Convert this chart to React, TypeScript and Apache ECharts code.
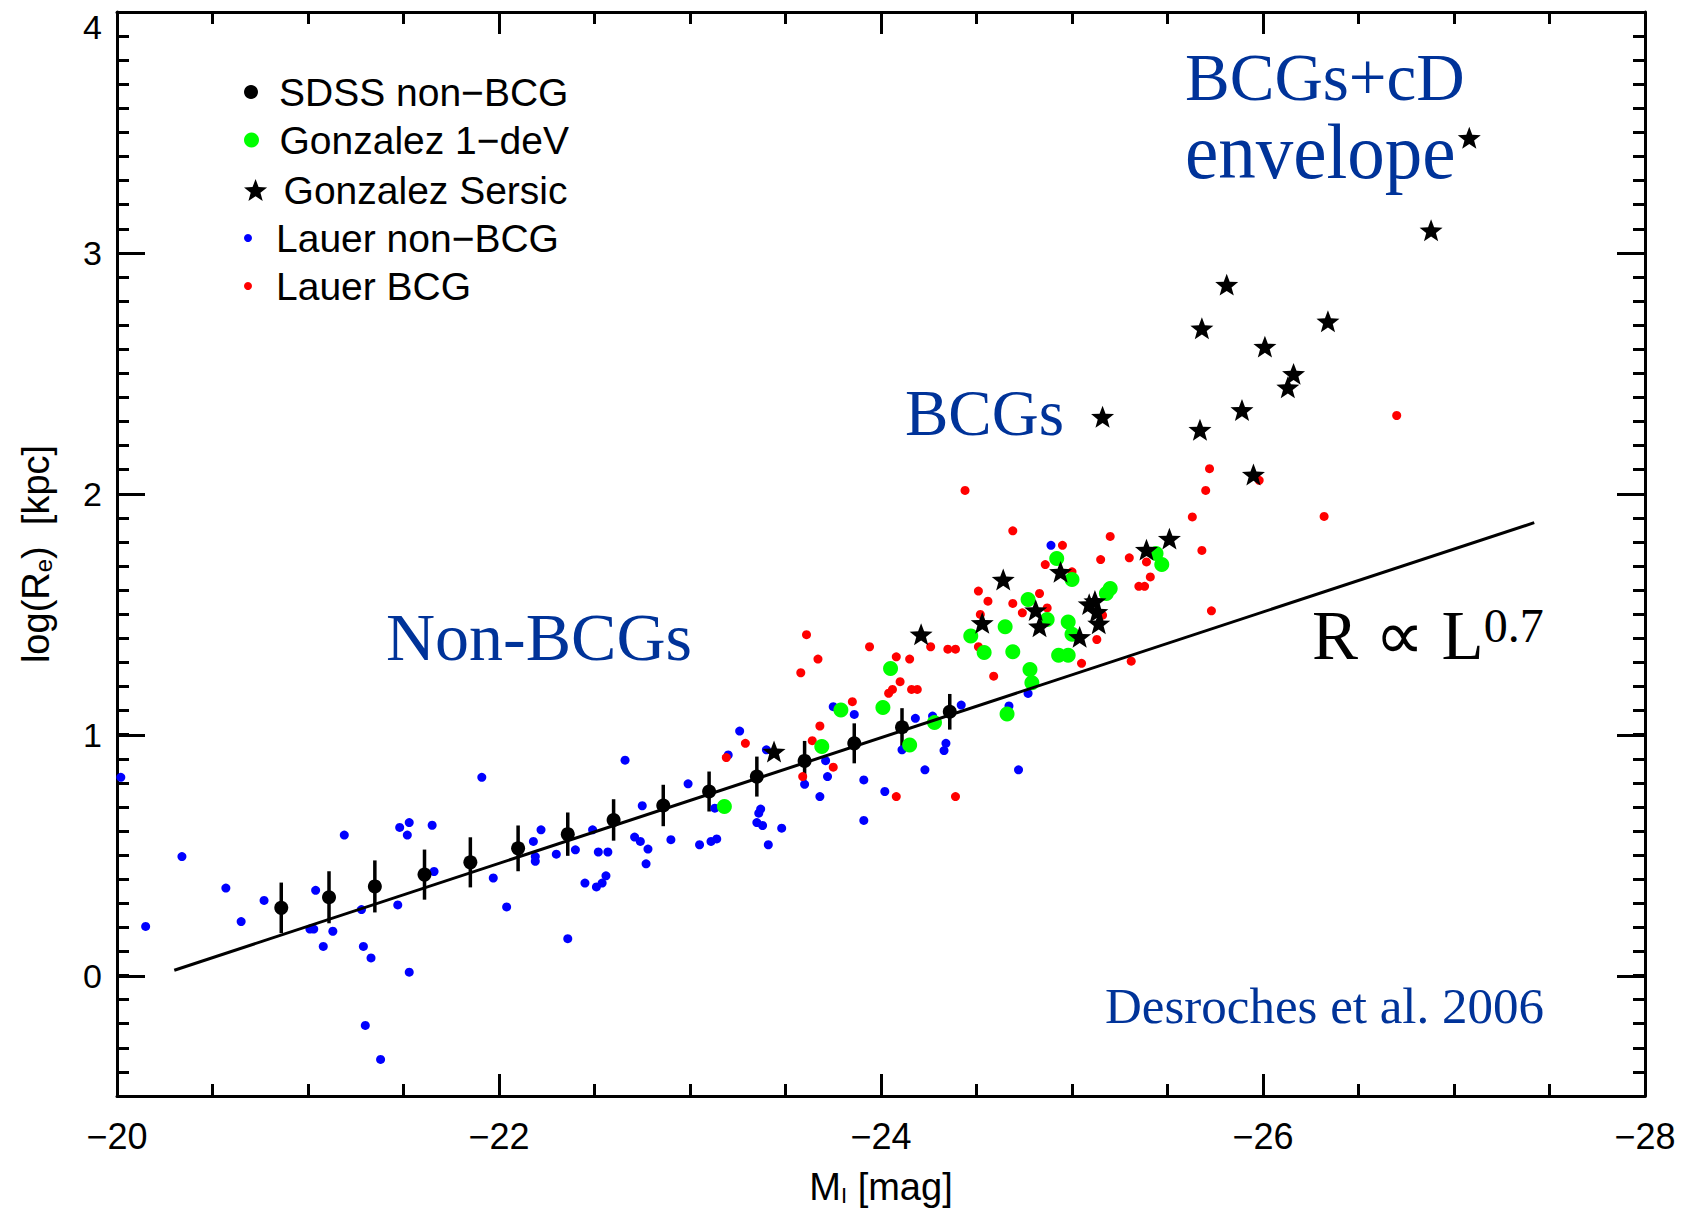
import React, { useEffect, useRef } from "react";
import * as echarts from "echarts";

// ---------------- data ----------------
const SDSS_X = [-20.86, -21.11, -21.35, -21.61, -21.85, -22.1, -22.36, -22.6, -22.86, -23.1, -23.35, -23.6, -23.86, -24.11, -24.36];
const SDSS_Y = [0.281, 0.325, 0.37, 0.419, 0.47, 0.528, 0.587, 0.646, 0.706, 0.764, 0.826, 0.891, 0.964, 1.031, 1.095];
const SDSS_ERR = [0.105, 0.108, 0.108, 0.104, 0.104, 0.095, 0.09, 0.086, 0.086, 0.083, 0.083, 0.083, 0.083, 0.079, 0.074];

const LAUER_NONBCG: [number, number][] = [
  [-20.02, 0.823], [-20.15, 0.204], [-20.34, 0.494], [-20.57, 0.363], [-20.65, 0.224], [-20.77, 0.312],
  [-21.04, 0.354], [-21.01, 0.193], [-21.03, 0.193], [-21.13, 0.184], [-21.08, 0.121], [-21.19, 0.583],
  [-21.28, 0.274], [-21.29, 0.121], [-21.33, 0.073], [-21.3, -0.207], [-21.38, -0.348], [-21.47, 0.293],
  [-21.48, 0.615], [-21.52, 0.583], [-21.53, 0.635], [-21.65, 0.624], [-21.66, 0.432], [-21.53, 0.014],
  [-21.91, 0.823], [-21.97, 0.405], [-22.04, 0.285],
  [-22.36, 0.153], [-22.18, 0.557], [-22.22, 0.605], [-22.19, 0.494], [-22.19, 0.474], [-22.3, 0.504],
  [-22.4, 0.522], [-22.45, 0.384], [-22.51, 0.368], [-22.54, 0.384], [-22.56, 0.414], [-22.49, 0.605],
  [-22.52, 0.513], [-22.57, 0.513], [-22.66, 0.894], [-22.71, 0.575], [-22.74, 0.557], [-22.75, 0.705],
  [-22.78, 0.525], [-22.77, 0.464], [-22.9, 0.564], [-22.99, 0.796], [-23.05, 0.543], [-23.11, 0.557],
  [-23.14, 0.567], [-23.13, 0.695], [-23.2, 0.916], [-23.26, 1.015], [-23.37, 0.691], [-23.36, 0.674],
  [-23.35, 0.635], [-23.38, 0.623], [-23.41, 0.543], [-23.48, 0.612], [-23.4, 0.937], [-23.6, 0.794],
  [-23.68, 0.743], [-23.72, 0.826], [-23.71, 0.892], [-23.75, 1.116], [-23.86, 1.084], [-23.91, 0.812],
  [-23.91, 0.644], [-24.02, 0.764], [-24.11, 0.937], [-24.18, 1.068],
  [-24.23, 0.854], [-24.72, 0.854], [-24.33, 0.934], [-24.34, 0.964], [-24.27, 1.077], [-24.42, 1.123],
  [-24.67, 1.119], [-24.77, 1.171], [-24.89, 1.786],
];

const LAUER_BCG: [number, number][] = [
  [-23.61, 1.415], [-23.67, 1.314], [-23.58, 1.257], [-23.29, 0.964], [-23.19, 0.905], [-23.68, 1.036],
  [-23.64, 0.975], [-23.59, 0.826], [-23.75, 0.865], [-23.85, 1.137], [-23.94, 1.365], [-24.08, 1.323],
  [-24.15, 1.314], [-24.1, 1.22], [-24.06, 1.188], [-24.04, 1.172], [-24.16, 1.188], [-24.19, 1.188],
  [-24.08, 0.743],
  [-24.44, 2.014], [-24.69, 1.846], [-24.95, 1.786], [-25.2, 1.823], [-25.72, 2.104], [-25.7, 2.014],
  [-25.63, 1.904], [-25.98, 2.056], [-25.68, 1.765], [-25.73, 1.514], [-25.3, 1.734], [-25.39, 1.717],
  [-25.41, 1.655], [-25.35, 1.616], [-25.38, 1.616], [-25.15, 1.727], [-24.86, 1.706], [-25.0, 1.676],
  [-24.51, 1.596], [-24.56, 1.554], [-24.69, 1.545], [-24.83, 1.586], [-24.74, 1.506], [-24.87, 1.526],
  [-24.52, 1.499], [-25.16, 1.496], [-25.13, 1.395], [-24.51, 1.365], [-24.26, 1.365], [-24.35, 1.355],
  [-24.39, 1.355], [-24.59, 1.243], [-25.05, 1.296], [-25.31, 1.305], [-24.39, 0.743],
  [-26.7, 2.325], [-26.32, 1.906],
];

const GONZALEZ_DEV: [number, number][] = [
  [-23.18, 0.702], [-23.69, 0.951], [-23.79, 1.102], [-24.01, 1.113], [-24.05, 1.275], [-24.15, 0.957],
  [-24.28, 1.05], [-24.66, 1.086], [-24.79, 1.216], [-24.78, 1.271], [-24.47, 1.41], [-24.54, 1.341],
  [-24.65, 1.448], [-24.69, 1.344], [-24.77, 1.561], [-24.87, 1.478], [-24.93, 1.33], [-24.98, 1.33],
  [-24.98, 1.468], [-25.0, 1.417], [-24.92, 1.731], [-25.0, 1.644], [-25.18, 1.586], [-25.2, 1.607],
  [-25.44, 1.752], [-25.47, 1.706],
];

const GONZALEZ_SERSIC: [number, number][] = [
  [-23.44, 0.93], [-24.21, 1.417], [-24.53, 1.464], [-24.64, 1.644], [-24.81, 1.517], [-24.83, 1.45],
  [-24.94, 1.676], [-25.04, 1.406], [-25.09, 1.542], [-25.12, 1.555], [-25.13, 1.51], [-25.14, 1.462],
  [-25.16, 2.32], [-25.39, 1.768], [-25.51, 1.814], [-25.67, 2.266], [-25.68, 2.687], [-25.81, 2.868],
  [-25.89, 2.348], [-25.95, 2.08], [-26.01, 2.611], [-26.13, 2.442], [-26.16, 2.498], [-26.34, 2.716],
  [-26.88, 3.094], [-27.08, 3.478],
];

const FIT_LINE: [number, number][] = [[-20.3, 0.022], [-27.42, 1.88]];

const X_TICKS_MIN = -28;
const X_TICKS_MAX = -20;
const Y_MIN = -0.5;
const Y_MAX = 4;

const NAMES = {
  sdss: "SDSS non\u2212BCG",
  dev: "Gonzalez 1\u2212deV",
  sersic: "Gonzalez Sersic",
  lauerN: "Lauer non\u2212BCG",
  lauerB: "Lauer BCG",
};

const STAR =
  "path://M0,-10L2.47,-3.4L9.511,-3.09L4,1.3L5.878,8.09L0,4.2L-5.878,8.09L-4,1.3L-9.511,-3.09L-2.47,-3.4Z";

const SANS = "Liberation Sans";
const SERIF = "Liberation Serif";
const TXT_BLUE = "#003399";

function App() {
  const ref = useRef<HTMLDivElement>(null);

  useEffect(() => {
    if (!ref.current) return;
    const chart = echarts.init(ref.current, null, { renderer: "svg" });

    const axisLine = { show: true, onZero: false, lineStyle: { color: "#000", width: 3 } };
    const tickStyle = { color: "#000", width: 3 };

    const xBase = {
      type: "value",
      min: X_TICKS_MIN,
      max: X_TICKS_MAX,
      interval: 2,
      inverse: true,
      splitLine: { show: false },
      axisLine,
      axisTick: { show: true, inside: true, length: 22, lineStyle: tickStyle },
      minorTick: { show: true, splitNumber: 4, length: 12, lineStyle: tickStyle },
    };

    const legendItem = (name: string, icon: string, size: number, cy: number) => ({
      data: [{ name, icon }],
      left: 244,
      top: cy - 20,
      padding: 0,
      orient: "vertical",
      itemWidth: 46,
      itemHeight: size,
      selectedMode: false,
      textStyle: { fontFamily: SANS, fontSize: 39, color: "#000", lineHeight: 40 },
    });

    const scatterBase = { type: "scatter", xAxisIndex: 0, yAxisIndex: 0, silent: true, symbol: "circle" };

    const option: any = {
      animation: false,
      backgroundColor: "#fff",
      grid: [
        { left: 117, right: 46, top: 12, bottom: 113 },
        { left: 117, right: 46, top: 12, bottom: 235 },
      ],
      xAxis: [
        {
          ...xBase,
          gridIndex: 0,
          position: "bottom",
          axisLabel: {
            show: true,
            margin: 22,
            fontFamily: SANS,
            fontSize: 36,
            color: "#000",
            formatter: (v: number) => (v < 0 ? "\u2212" : "") + Math.abs(v),
          },
          name: "{a|M}{s|I}{a| [mag]}",
          nameLocation: "middle",
          nameGap: 72,
          nameTextStyle: {
            rich: {
              a: { fontFamily: SANS, fontSize: 38, color: "#000" },
              s: { fontFamily: SANS, fontSize: 22, color: "#000", verticalAlign: "bottom" },
            },
          },
        },
        { ...xBase, gridIndex: 0, position: "top", axisLabel: { show: false } },
        { type: "value", gridIndex: 1, min: X_TICKS_MIN, max: X_TICKS_MAX, inverse: true, show: false },
      ],
      yAxis: [
        {
          type: "value",
          gridIndex: 0,
          position: "left",
          min: Y_MIN,
          max: Y_MAX,
          interval: 0.1,
          splitLine: { show: false },
          axisLine,
          axisLabel: { show: false },
          axisTick: { show: true, inside: true, length: 12, lineStyle: tickStyle },
          name: "{a|log(R}{s|e}{a|)  [kpc]}",
          nameLocation: "middle",
          nameGap: 62,
          nameRotate: 90,
          nameTextStyle: {
            rich: {
              a: { fontFamily: SANS, fontSize: 38, color: "#000" },
              s: { fontFamily: SANS, fontSize: 24, color: "#000", verticalAlign: "bottom" },
            },
          },
        },
        {
          type: "value",
          gridIndex: 0,
          position: "right",
          min: Y_MIN,
          max: Y_MAX,
          interval: 0.1,
          splitLine: { show: false },
          axisLine,
          axisLabel: { show: false },
          axisTick: { show: true, inside: true, length: 12, lineStyle: tickStyle },
        },
        {
          type: "value",
          gridIndex: 1,
          position: "left",
          min: 0,
          max: Y_MAX,
          interval: 1,
          splitLine: { show: false },
          axisLine: { show: false, onZero: false },
          axisTick: { show: true, inside: true, length: 28, lineStyle: tickStyle },
          axisLabel: {
            show: true,
            margin: 15,
            fontFamily: SANS,
            fontSize: 34,
            color: "#000",
            formatter: (v: number) => (v === Y_MAX ? "{t|" + v + "}" : String(v)),
            rich: { t: { fontFamily: SANS, fontSize: 34, color: "#000", padding: [30, 0, 0, 0] } },
          },
        },
        {
          type: "value",
          gridIndex: 1,
          position: "right",
          min: 0,
          max: Y_MAX,
          interval: 1,
          splitLine: { show: false },
          axisLine: { show: false, onZero: false },
          axisTick: { show: true, inside: true, length: 28, lineStyle: tickStyle },
          axisLabel: { show: false },
        },
      ],
      legend: [
        legendItem(NAMES.sdss, "circle", 14, 92),
        legendItem(NAMES.dev, "circle", 15, 140),
        legendItem(NAMES.sersic, STAR, 22, 190),
        legendItem(NAMES.lauerN, "circle", 8, 238),
        legendItem(NAMES.lauerB, "circle", 8, 286),
      ],
      series: [
        {
          ...scatterBase,
          name: NAMES.lauerN,
          data: LAUER_NONBCG,
          symbolSize: 9,
          itemStyle: { color: "#0000ff", opacity: 1 },
        },
        {
          ...scatterBase,
          name: NAMES.lauerB,
          data: LAUER_BCG,
          symbolSize: 9,
          itemStyle: { color: "#ff0000", opacity: 1 },
        },
        {
          ...scatterBase,
          name: NAMES.dev,
          data: GONZALEZ_DEV,
          symbolSize: 15,
          itemStyle: { color: "#00ff00", opacity: 1 },
        },
        {
          name: "fit",
          type: "line",
          xAxisIndex: 0,
          yAxisIndex: 0,
          data: FIT_LINE,
          showSymbol: false,
          lineStyle: { color: "#000", width: 3 },
          silent: true,
        },
        {
          name: "sdssErr",
          type: "custom",
          xAxisIndex: 0,
          yAxisIndex: 0,
          data: SDSS_X.map((x, i) => [x, SDSS_Y[i], SDSS_ERR[i]]),
          encode: { x: 0, y: 1 },
          silent: true,
          renderItem: (params: any, api: any) => {
            const x = api.value(0);
            const y = api.value(1);
            const e = api.value(2);
            const p1 = api.coord([x, y + e]);
            const p2 = api.coord([x, y - e]);
            return {
              type: "line",
              shape: { x1: p1[0], y1: p1[1], x2: p2[0], y2: p2[1] },
              style: { stroke: "#000", lineWidth: 3.5 },
            };
          },
        },
        {
          ...scatterBase,
          name: NAMES.sdss,
          data: SDSS_X.map((x, i) => [x, SDSS_Y[i]]),
          symbolSize: 14,
          itemStyle: { color: "#000", opacity: 1 },
        },
        {
          ...scatterBase,
          name: NAMES.sersic,
          data: GONZALEZ_SERSIC,
          symbol: STAR,
          symbolSize: 23,
          symbolKeepAspect: true,
          itemStyle: { color: "#000", opacity: 1 },
        },
      ],
      graphic: [
        {
          type: "text",
          x: 1185,
          y: 77,
          style: { text: "BCGs+cD", fontFamily: SERIF, fontSize: 67, fill: TXT_BLUE, align: "left", verticalAlign: "middle" },
        },
        {
          type: "text",
          x: 1185,
          y: 151,
          scaleY: 1.05,
          style: { text: "envelope", fontFamily: SERIF, fontSize: 75, fill: TXT_BLUE, align: "left", verticalAlign: "middle" },
        },
        {
          type: "text",
          x: 905,
          y: 413,
          style: { text: "BCGs", fontFamily: SERIF, fontSize: 65, fill: TXT_BLUE, align: "left", verticalAlign: "middle" },
        },
        {
          type: "text",
          x: 386,
          y: 637,
          style: { text: "Non-BCGs", fontFamily: SERIF, fontSize: 68, fill: TXT_BLUE, align: "left", verticalAlign: "middle" },
        },
        {
          type: "text",
          x: 1312,
          y: 636,
          style: {
            text: "{r|R \u221D L}{s|0.7}",
            fill: "#000",
            align: "left",
            verticalAlign: "middle",
            rich: {
              r: { fontFamily: SERIF, fontSize: 69, fill: "#000" },
              s: { fontFamily: SERIF, fontSize: 48, fill: "#000", verticalAlign: "top" },
            },
          },
        },
        {
          type: "text",
          x: 1105,
          y: 1006,
          style: { text: "Desroches et al. 2006", fontFamily: SERIF, fontSize: 51, fill: TXT_BLUE, align: "left", verticalAlign: "middle" },
        },
      ],
    };

    chart.setOption(option);
    return () => chart.dispose();
  }, []);

  return (
    <div
      ref={ref}
      style={{ position: "fixed", left: 0, top: 0, width: 1691, height: 1211, background: "#fff" }}
    />
  );
}

export default App;
